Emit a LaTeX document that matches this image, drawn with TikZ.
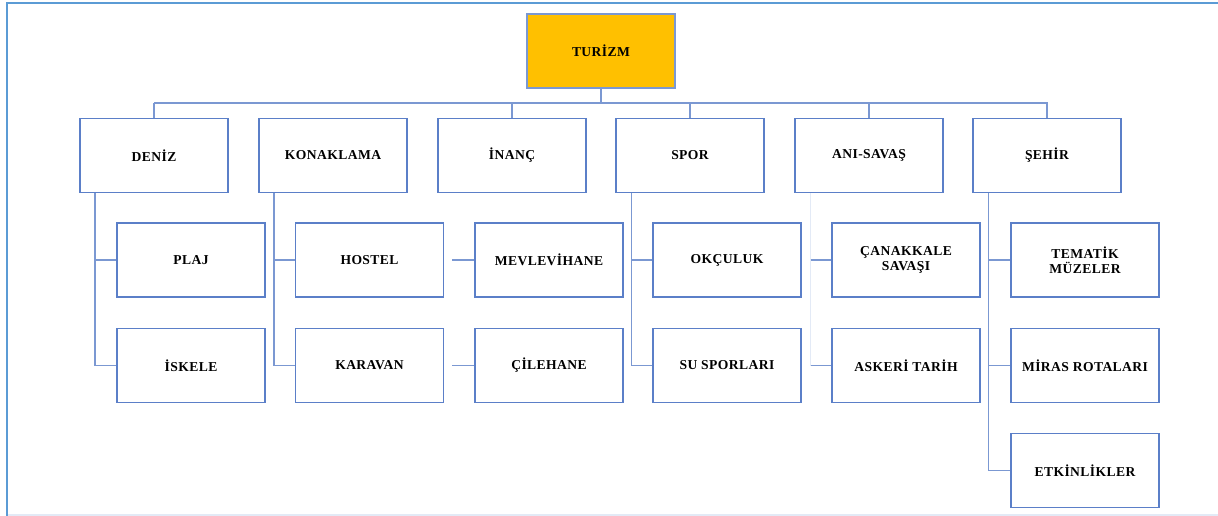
\documentclass[tikz,border=0pt]{standalone}
\usepackage{fontspec}
\setmainfont{Liberation Serif}
\definecolor{boxline}{HTML}{5B7FC8}
\definecolor{conline}{HTML}{7B98D2}
\definecolor{faint}{HTML}{E3EAF6}
\definecolor{framec}{HTML}{5B9BD5}
\definecolor{gold}{HTML}{FFC000}
\tikzset{
  box/.style={draw=boxline, line width=1.4pt, rectangle, minimum width=148pt, minimum height=74pt,
    inner sep=0pt, align=center, font=\fontsize{13.6}{15}\selectfont\bfseries\addfontfeatures{LetterSpace=3}},
  topbox/.style={box, fill=gold, draw=conline},
  con/.style={draw=conline, line width=1.4pt},
  faintcon/.style={draw=faint, line width=1.4pt},
}
\begin{document}
\begin{tikzpicture}[x=1pt,y=-1pt]
\useasboundingbox (0,0) rectangle (1218,516);
% frame
\draw[faint, line width=1.5pt] (8,515) -- (1218,515);
\draw[framec, line width=2pt] (7,516) -- (7,3) -- (1218,3);
% nodes
\node[topbox] (tur) at (601,51) {TURİZM};
\node[box] (deniz) at (154,155.5) {DENİZ};
\node[box] (kon) at (333,155.5) {KONAKLAMA};
\node[box] (inanc) at (512,155.5) {İNANÇ};
\node[box] (spor) at (690,155.5) {SPOR};
\node[box] (ani) at (869,155.5) {ANI-SAVAŞ};
\node[box] (sehir) at (1047,155.5) {ŞEHİR};
\node[box] (plaj) at (191,260) {PLAJ};
\node[box] (iskele) at (191,365.5) {İSKELE};
\node[box] (hostel) at (369.5,260) {HOSTEL};
\node[box] (karavan) at (369.5,365.5) {KARAVAN};
\node[box] (mev) at (549,260) {MEVLEVİHANE};
\node[box] (cile) at (549,365.5) {ÇİLEHANE};
\node[box] (okc) at (727,260) {OKÇULUK};
\node[box] (su) at (727,365.5) {SU SPORLARI};
\node[box] (cana) at (906,260) {ÇANAKKALE\\SAVAŞI};
\node[box] (askeri) at (906,365.5) {ASKERİ TARİH};
\node[box] (tema) at (1085,260) {TEMATİK\\MÜZELER};
\node[box] (miras) at (1085,365.5) {MİRAS ROTALARI};
\node[box] (etk) at (1085,470.5) {ETKİNLİKLER};
% bus
\coordinate (busL) at (154,103);
\coordinate (busR) at (1048,103);
\draw[con] (tur.south) -- (tur.south |- busL);
\draw[con] (busL) -- (busR);
\draw[con] (deniz.north) -- (deniz.north |- busL);
\draw[con] (inanc.north) -- (inanc.north |- busL);
\draw[con] (spor.north) -- (spor.north |- busL);
\draw[con] (ani.north) -- (ani.north |- busL);
\draw[con] (sehir.north) -- (sehir.north |- busL);
% children
\draw[con] ([xshift=-59pt]deniz.south) |- (iskele.west);
\draw[con] ([xshift=-59pt]deniz.south |- plaj.west) -- (plaj.west);
\draw[con] ([xshift=-59pt]kon.south) |- (karavan.west);
\draw[con] ([xshift=-59pt]kon.south |- hostel.west) -- (hostel.west);
\draw[con] ([xshift=-22pt]mev.west) -- (mev.west);
\draw[con] ([xshift=-22pt]cile.west) -- (cile.west);
\draw[con] ([xshift=-58.5pt]spor.south) |- (su.west);
\draw[con] ([xshift=-58.5pt]spor.south |- okc.west) -- (okc.west);
\draw[faintcon] ([xshift=-58.5pt]ani.south) -- ([xshift=-58.5pt]ani.south |- askeri.west);
\draw[con] ([xshift=-58.5pt]ani.south |- cana.west) -- (cana.west);
\draw[con] ([xshift=-58.5pt]ani.south |- askeri.west) -- (askeri.west);
\draw[con] ([xshift=-58.5pt]sehir.south) |- (etk.west);
\draw[con] ([xshift=-58.5pt]sehir.south |- tema.west) -- (tema.west);
\draw[con] ([xshift=-58.5pt]sehir.south |- miras.west) -- (miras.west);
\end{tikzpicture}
\end{document}
